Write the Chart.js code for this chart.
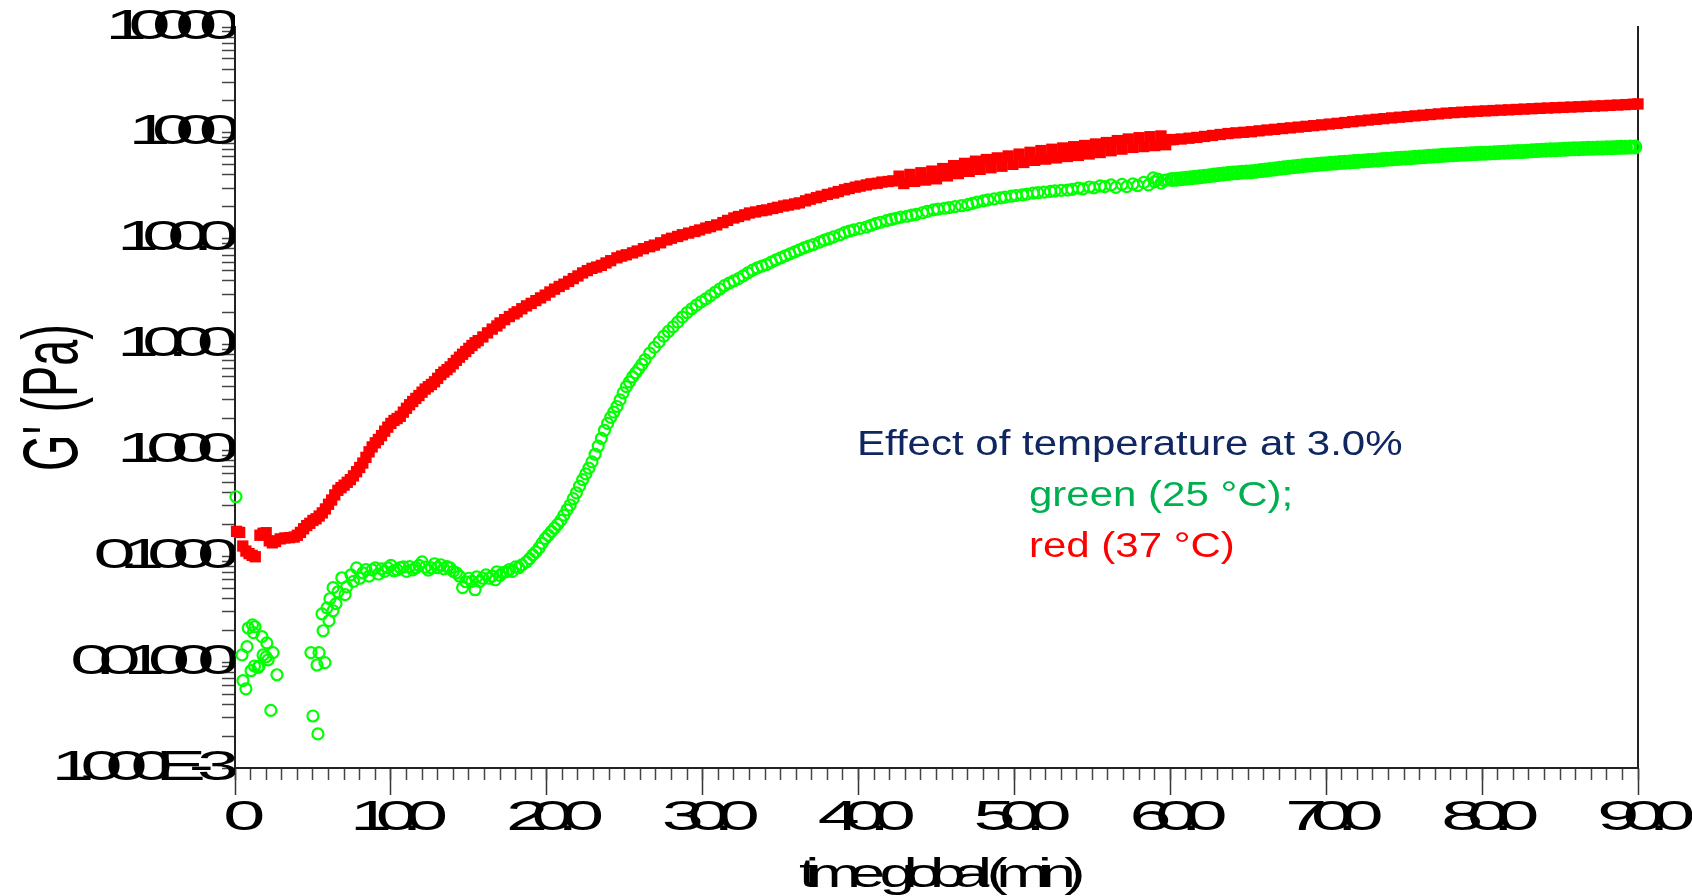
<!DOCTYPE html>
<html>
<head>
<meta charset="utf-8">
<script src="https://cdn.jsdelivr.net/npm/chart.js@4.4.1/dist/chart.umd.min.js"></script>
<style>
  html, body { margin: 0; padding: 0; background: #fff; }
  #wrap { width: 1692px; height: 896px; }
</style>
</head>
<body>
<div id="wrap"><canvas id="gChart" width="1692" height="896"></canvas></div>
<script>
// G' at 37 °C (red squares): [time (min), G' (Pa)]
var redPoints = [
  [0.1,0.172],[0.3,0.168],[0.5,0.125],[0.7,0.112],[0.9,0.106],[1.1,0.102],[1.3,0.099],[1.6,0.158],[1.8,0.165],[2.0,0.167],
  [2.2,0.14],[2.4,0.134],[2.6,0.138],[2.9,0.146],[3.2,0.149],[3.5,0.150],[3.8,0.152],[4.0,0.158],[4.2,0.168],[4.4,0.182],
  [4.6,0.195],[4.8,0.205],[5.0,0.218],[5.2,0.226],[5.4,0.24],[5.6,0.257],[5.8,0.28],[6.0,0.31],[6.2,0.34],[6.4,0.38],
  [6.6,0.42],[6.8,0.445],[7.0,0.47],[7.2,0.5],[7.4,0.53],[7.6,0.575],[7.8,0.63],[8.0,0.69],[8.2,0.76],[8.4,0.86],
  [8.6,0.97],[8.8,1.08],[9.0,1.18],[9.2,1.27],[9.4,1.38],[9.6,1.52],[9.8,1.66],[10.0,1.8],[10.2,1.92],[10.4,2.0],
  [10.6,2.1],[10.8,2.3],[11.0,2.5],[11.2,2.7],[11.4,2.9],[11.6,3.1],[11.8,3.3],[12.0,3.55],[12.2,3.8],[12.4,4.0],
  [12.6,4.2],[12.8,4.45],[13.0,4.8],[13.2,5.2],[13.4,5.5],[13.6,5.8],[13.8,6.15],[14.0,6.6],[14.2,7.1],[14.4,7.6],
  [14.6,8.1],[14.8,8.6],[15.0,9.2],[15.2,9.8],[15.4,10.4],[15.6,10.9],[15.9,11.8],[16.2,12.9],[16.5,14.0],[16.8,15.0],
  [17.0,16.0],[17.3,17.2],[17.6,18.4],[17.9,19.5],[18.1,20.4],[18.4,21.8],[18.7,23.2],[19.0,24.5],[19.3,26],[19.6,27.6],
  [19.9,29.3],[20.2,31.4],[20.5,33.4],[20.8,35.4],[21.1,37.2],[21.4,39.5],[21.7,42],[22.0,44.5],[22.3,47.5],[22.6,50],
  [22.9,52.5],[23.2,54],[23.5,56],[23.8,59],[24.1,62],[24.5,66],[24.8,68.5],[25.1,70.5],[25.5,73.5],[25.8,76.5],
  [26.2,80.5],[26.6,84],[26.9,87],[27.3,91.5],[27.7,97.5],[28.0,101],[28.4,105],[28.7,109],[29.1,113],[29.5,117],
  [29.8,121],[30.2,126],[30.5,130],[30.9,135],[31.3,142],[31.6,149],[32.0,157],[32.3,162],[32.7,168],[33.0,175],
  [33.4,179],[33.8,184],[34.1,187],[34.5,193],[34.8,198],[35.2,204],[35.5,208],[35.9,213],[36.2,218],[36.6,228],
  [36.9,236],[37.3,244],[37.6,252],[38.0,262],[38.4,270],[38.7,279],[39.1,290],[39.4,298],[39.8,307],[40.1,314],
  [40.5,322],[40.8,330],[41.2,334],[41.5,343],[41.9,347],[42.2,352],[42.6,390],[42.9,332],[43.3,405],[43.6,348],
  [44.0,420],[44.3,358],[44.7,435],[45.0,368],[45.4,460],[45.7,392],[46.1,490],[46.4,412],[46.8,515],[47.1,433],
  [47.5,540],[47.8,452],[48.2,560],[48.5,468],[48.9,580],[49.2,484],[49.6,605],[49.9,504],[50.3,630],[50.6,525],
  [51.0,655],[51.3,550],[51.7,680],[52.0,565],[52.4,700],[52.7,580],[53.1,720],[53.4,598],[53.8,740],[54.1,612],
  [54.5,760],[54.8,632],[55.2,785],[55.5,652],[55.9,810],[56.2,678],[56.6,845],[56.9,702],[57.3,875],[57.6,728],
  [58.0,900],[58.3,742],[58.7,920],[59.0,758],[59.4,935],[59.7,772],[60.0,862],[60.2,865],[60.7,875],[61.2,890],
  [61.7,905],[62.2,925],[62.7,945],[63.2,965],[63.7,985],[64.2,1000],[64.7,1012],[65.2,1025],[65.7,1045],[66.2,1064],
  [66.7,1080],[67.2,1098],[67.7,1115],[68.2,1133],[68.7,1152],[69.2,1170],[69.7,1190],[70.2,1210],[70.7,1230],[71.2,1252],
  [71.7,1275],[72.2,1298],[72.7,1320],[73.2,1342],[73.7,1362],[74.2,1385],[74.7,1405],[75.2,1425],[75.7,1447],[76.2,1468],
  [76.7,1490],[77.2,1510],[77.7,1535],[78.2,1552],[78.7,1568],[79.2,1583],[79.7,1598],[80.2,1612],[80.7,1625],[81.2,1638],
  [81.7,1650],[82.2,1664],[82.7,1677],[83.2,1690],[83.7,1704],[84.2,1716],[84.7,1728],[85.2,1740],[85.7,1752],[86.2,1765],
  [86.7,1778],[87.2,1790],[87.7,1802],[88.2,1818],[88.7,1832],[89.2,1848],[89.7,1865],[90.0,1875]
];

// G' at 25 °C (green circles): [time (min), G' (Pa)]
var greenPoints = [
  [0.06,0.365],[0.45,0.0117],[0.51,0.0067],[0.7,0.0056],[0.77,0.014],[0.85,0.021],[1.03,0.0083],[1.12,0.0225],[1.18,0.019],[1.28,0.0216],
  [1.25,0.0092],[1.48,0.0089],[1.54,0.0092],[1.73,0.0174],[1.8,0.0117],[1.99,0.0112],[2.04,0.0152],[2.12,0.0105],[2.3,0.0035],[2.44,0.0123],
  [2.69,0.0076],[4.87,0.0123],[5.0,0.0031],[5.26,0.0094],[5.32,0.0021],[5.39,0.0123],[5.77,0.0099],
  [5.58,0.0286],[5.65,0.0198],[5.9,0.0326],[6.03,0.0246],[6.09,0.0397],[6.29,0.0306],[6.29,0.0505],[6.48,0.0357],[6.61,0.0462],[6.85,0.0627],
  [7.06,0.0434],[7.16,0.0515],[7.44,0.0668],[7.6,0.058],[7.8,0.0778],[8.0,0.062],[8.2,0.0698],[8.4,0.075],[8.6,0.065],[8.8,0.0745],
  [9.0,0.0778],[9.2,0.068],[9.4,0.076],[9.6,0.072],[9.8,0.0778],[10.0,0.082],[10.2,0.073],[10.4,0.0745],[10.6,0.078],[10.8,0.0795],
  [11.0,0.072],[11.2,0.08],[11.4,0.0745],[11.6,0.078],[11.8,0.082],[12.0,0.0887],[12.2,0.079],[12.4,0.074],[12.6,0.0778],[12.8,0.085],
  [13.0,0.078],[13.2,0.0832],[13.4,0.076],[13.6,0.08],[13.8,0.0778],[14.0,0.072],[14.2,0.0698],[14.4,0.065],[14.6,0.0505],[14.8,0.0575],
  [15.0,0.062],[15.2,0.058],[15.4,0.0483],[15.5,0.064],[15.7,0.058],[15.9,0.062],[16.1,0.0668],[16.3,0.062],[16.5,0.065],[16.7,0.06],
  [16.8,0.0714],[17.0,0.066],[17.2,0.07],[17.4,0.0714],[17.6,0.075],[17.8,0.072],[18.0,0.0795],[18.2,0.078],[18.4,0.083],[18.7,0.0887],
  [18.9,0.095],[19.1,0.103],[19.3,0.11],[19.5,0.12],[19.7,0.133],[19.9,0.147],[20.1,0.158],[20.3,0.172],[20.5,0.185],[20.7,0.2],
  [20.9,0.218],[21.1,0.245],[21.3,0.275],[21.5,0.305],[21.7,0.35],[21.9,0.398],[22.1,0.46],[22.3,0.53],[22.5,0.6],[22.7,0.68],
  [22.9,0.78],[23.1,0.92],[23.3,1.1],[23.5,1.3],[23.7,1.55],[23.9,1.8],[24.1,2.05],[24.3,2.3],[24.5,2.6],[24.7,3.0],
  [24.9,3.5],[25.1,4.0],[25.3,4.45],[25.5,4.95],[25.7,5.4],[25.9,5.9],[26.1,6.5],[26.3,7.2],[26.6,8.3],[26.9,9.4],
  [27.2,10.6],[27.5,12.0],[27.8,13.3],[28.1,14.7],[28.4,16.3],[28.7,18.2],[29.0,20.0],[29.3,21.8],[29.6,23.6],[29.9,25.3],
  [30.2,27.0],[30.5,29.0],[30.8,31.2],[31.1,33.5],[31.4,36],[31.7,38],[32.0,40],[32.3,42],[32.6,44.5],[32.9,47.5],
  [33.2,50.5],[33.5,53],[33.8,55],[34.1,57],[34.4,60],[34.7,63],[35.0,66],[35.3,69],[35.6,72],[35.9,75],
  [36.2,78.5],[36.5,82],[36.8,85],[37.1,88],[37.5,93],[37.8,97],[38.1,100],[38.4,104],[38.8,109],[39.1,114],
  [39.4,118],[39.7,121],[40.1,125],[40.5,129],[40.8,134],[41.1,139],[41.4,143],[41.8,148],[42.1,152],[42.4,156],
  [42.7,160],[43.1,163],[43.4,167],[43.7,170],[44.1,176],[44.4,181],[44.8,187],[45.1,190],[45.5,194],[45.8,197],
  [46.2,201],[46.6,205],[47.0,210],[47.3,216],[47.6,222],[48.0,228],[48.3,233],[48.7,238],[49.1,243],[49.4,247],
  [49.8,252],[50.1,256],[50.5,260],[50.8,264],[51.2,270],[51.5,272],[51.9,276],[52.3,280],[52.6,283],[53.0,286],
  [53.4,288],[53.7,293],[54.1,300],[54.4,296],[54.8,308],[55.1,302],[55.5,315],[55.8,310],[56.2,322],[56.5,305],
  [56.9,326],[57.2,310],[57.6,330],[57.9,318],[58.3,340],[58.6,322],[58.9,375],[59.0,345],[59.2,365],[59.4,335],
  [59.6,355],[59.8,359],[60.1,362],[60.4,365],[60.7,369],[61.0,372],[61.3,376],[61.6,380],[61.9,384],[62.2,389],
  [62.5,394],[62.8,399],[63.1,404],[63.4,409],[63.7,414],[64.0,418],[64.3,421],[64.6,424],[64.9,427],[65.2,430],
  [65.5,435],[65.8,440],[66.1,445],[66.4,451],[66.7,456],[67.0,462],[67.3,467],[67.6,473],[67.9,478],[68.2,484],
  [68.5,489],[68.8,494],[69.1,498],[69.4,503],[69.7,507],[70.0,511],[70.3,516],[70.6,520],[70.9,524],[71.2,528],
  [71.5,531],[71.8,535],[72.1,539],[72.4,543],[72.7,547],[73.0,551],[73.3,555],[73.6,559],[73.9,563],[74.2,567],
  [74.5,571],[74.8,575],[75.1,579],[75.4,583],[75.7,587],[76.0,591],[76.3,595],[76.6,600],[76.9,604],[77.2,609],
  [77.5,613],[77.8,617],[78.1,620],[78.4,624],[78.7,627],[79.0,630],[79.3,634],[79.6,637],[79.9,640],[80.2,643],
  [80.5,646],[80.8,649],[81.1,652],[81.4,655],[81.7,658],[82.0,662],[82.3,665],[82.6,668],[82.9,672],[83.2,676],
  [83.5,680],[83.8,684],[84.1,688],[84.4,691],[84.7,694],[85.0,697],[85.3,700],[85.6,703],[85.9,706],[86.2,709],
  [86.5,711],[86.8,714],[87.1,716],[87.4,718],[87.7,720],[88.0,722],[88.3,725],[88.6,728],[88.9,730],[89.2,732],
  [89.5,734],[89.8,736]
];

var xTickValues = [0, 10, 20, 30, 40, 50, 60, 70, 80, 90];
var xTickLabels = ['0', '10.0', '20.0', '30.0', '40.0', '50.0', '60.0', '70.0', '80.0', '90.0'];
var yDecades = [0.001, 0.01, 0.1, 1, 10, 100, 1000, 10000];
var yTickLabels = ['1.000E-3', '0.01000', '0.1000', '1.000', '10.00', '100.0', '1000', '10000'];

var xTitle = 'time global (min)';
var yTitle = "G' (Pa)";
var noteLines = ['Effect of temperature at 3.0%', 'green (25 °C);', 'red (37 °C)'];
var noteColors = ['#0f2660', '#00b050', '#ff0000'];

var FONT = '"Liberation Sans", Arial, Helvetica, sans-serif';

// the exported plot has squeezed / stretched lettering; mimic it
var textShape = {};
textShape[xTitle] = { sx: 1.6, f: 0.93 };
textShape[yTitle] = { sx: 0.6, f: 0.6 };
var tickShape = { sx: 1.8, f: 1.0 };
var hasSpacing = 'letterSpacing' in CanvasRenderingContext2D.prototype;
var nativeFill = CanvasRenderingContext2D.prototype.fillText;

function drawShaped(ctx, text, x, y, p) {
  ctx.save();
  var align = ctx.textAlign;
  ctx.textAlign = 'left';
  var w = ctx.measureText(text).width;
  var sx = p.sx;
  if (hasSpacing && text.length > 0) {
    ctx.letterSpacing = ((p.f * w / sx - w) / text.length) + 'px';
  } else {
    sx = p.f;
  }
  var w2 = ctx.measureText(text).width * sx;
  var x0 = x;
  if (align === 'center') x0 = x - w2 / 2;
  else if (align === 'right' || align === 'end') x0 = x - w2;
  ctx.translate(x0, y);
  ctx.scale(sx, 1);
  nativeFill.call(ctx, text, 0, 0);
  ctx.restore();
}

var shapedText = {
  id: 'shapedText',
  beforeDraw(chart) {
    chart.ctx.fillText = function (text, x, y) {
      var s = String(text);
      drawShaped(this, s, x, y, textShape[s] || tickShape);
    };
  },
  beforeDatasetsDraw(chart) {
    delete chart.ctx.fillText;
  }
};

var notePlugin = {
  id: 'note',
  afterDraw(chart) {
    var ctx = chart.ctx;
    var pos = [[857, 455], [1029, 506], [1029, 557]];
    ctx.save();
    ctx.font = '35px ' + FONT;
    ctx.textBaseline = 'alphabetic';
    ctx.textAlign = 'left';
    for (var i = 0; i < noteLines.length; i++) {
      ctx.save();
      ctx.translate(pos[i][0], pos[i][1]);
      ctx.scale(1.2, 1);
      ctx.fillStyle = noteColors[i];
      ctx.fillText(noteLines[i], 0, 0);
      ctx.restore();
    }
    ctx.restore();
  }
};

function logTicks() {
  var out = [];
  for (var e = -3; e <= 3; e++) {
    for (var k = 1; k <= 9; k++) out.push({ value: k * Math.pow(10, e) });
  }
  out.push({ value: 10000 });
  return out;
}

function yLabel(value) {
  for (var i = 0; i < yDecades.length; i++) {
    if (Math.abs(value - yDecades[i]) / yDecades[i] < 1e-6) return yTickLabels[i];
  }
  return '';
}

var config = {
  type: 'scatter',
  data: {
    datasets: [
      {
        label: 'green (25 °C)',
        data: greenPoints.map(p => ({ x: p[0], y: p[1] })),
        pointStyle: 'circle',
        pointRadius: 5.5,
        // after 60 min the instrument logged densely, the rings merge into a solid band
        pointBorderWidth: c => (c.raw && c.raw.x > 59.9 ? 4 : 2.2),
        pointBorderColor: '#00ff00',
        pointBackgroundColor: 'rgba(0,0,0,0)',
        clip: false
      },
      {
        label: 'red (37 °C)',
        data: redPoints.map(p => ({ x: p[0], y: p[1] })),
        pointStyle: 'rect',
        pointRadius: 8,
        pointBorderWidth: 0,
        pointBackgroundColor: '#ff0000',
        pointBorderColor: '#ff0000',
        clip: false
      }
    ]
  },
  options: {
    responsive: false,
    devicePixelRatio: 1,
    animation: false,
    events: [],
    layout: { padding: { top: 27, left: 0, right: 0, bottom: 0 } },
    plugins: {
      legend: { display: false },
      tooltip: { enabled: false }
    },
    scales: {
      x: {
        type: 'linear',
        position: 'bottom',
        min: 0,
        max: 90,
        afterBuildTicks: s => { s.ticks = xTickValues.map(v => ({ value: v })); },
        afterFit: s => { s.height = 128; },
        ticks: {
          autoSkip: false,
          maxRotation: 0,
          padding: 2,
          color: '#000',
          font: { family: FONT, size: 42, lineHeight: 1 },
          callback: (v, i) => xTickLabels[i]
        },
        grid: { drawOnChartArea: false, tickLength: 27, tickColor: '#333', tickWidth: 1.5 },
        border: { display: true, color: '#222', width: 2 },
        title: {
          display: true,
          text: xTitle,
          color: '#000',
          padding: { top: 0, bottom: 0 },
          font: { family: FONT, size: 40, lineHeight: 1 }
        }
      },
      xm: {
        axis: 'x',
        type: 'linear',
        position: { y: 0.001 },
        min: 0,
        max: 90,
        afterBuildTicks: s => {
          var t = [];
          for (var v = 0; v <= 90; v++) t.push({ value: v });
          s.ticks = t;
        },
        ticks: { display: false, autoSkip: false },
        grid: { drawOnChartArea: false, tickLength: 12, tickColor: '#444', tickWidth: 1.5 },
        border: { display: false }
      },
      y: {
        type: 'logarithmic',
        position: 'left',
        min: 0.001,
        max: 10000,
        afterBuildTicks: s => { s.ticks = logTicks(); },
        afterFit: s => { s.width = 235; },
        ticks: {
          autoSkip: false,
          padding: 0,
          color: '#000',
          font: { family: FONT, size: 42, lineHeight: 1 },
          callback: v => yLabel(v)
        },
        grid: { drawOnChartArea: false, tickLength: 13, tickColor: '#444', tickWidth: 1.5 },
        border: { display: true, color: '#222', width: 2 },
        title: {
          display: true,
          text: yTitle,
          color: '#000',
          padding: { top: 16, bottom: 0 },
          font: { family: FONT, size: 78, lineHeight: 1 }
        }
      },
      yr: {
        axis: 'y',
        type: 'logarithmic',
        position: 'right',
        min: 0.001,
        max: 10000,
        afterFit: s => { s.width = 54; },
        ticks: { display: false },
        grid: { display: false, drawTicks: false },
        border: { display: true, color: '#222', width: 2 }
      }
    }
  },
  plugins: [shapedText, notePlugin]
};

new Chart(document.getElementById('gChart'), config);
</script>
</body>
</html>
